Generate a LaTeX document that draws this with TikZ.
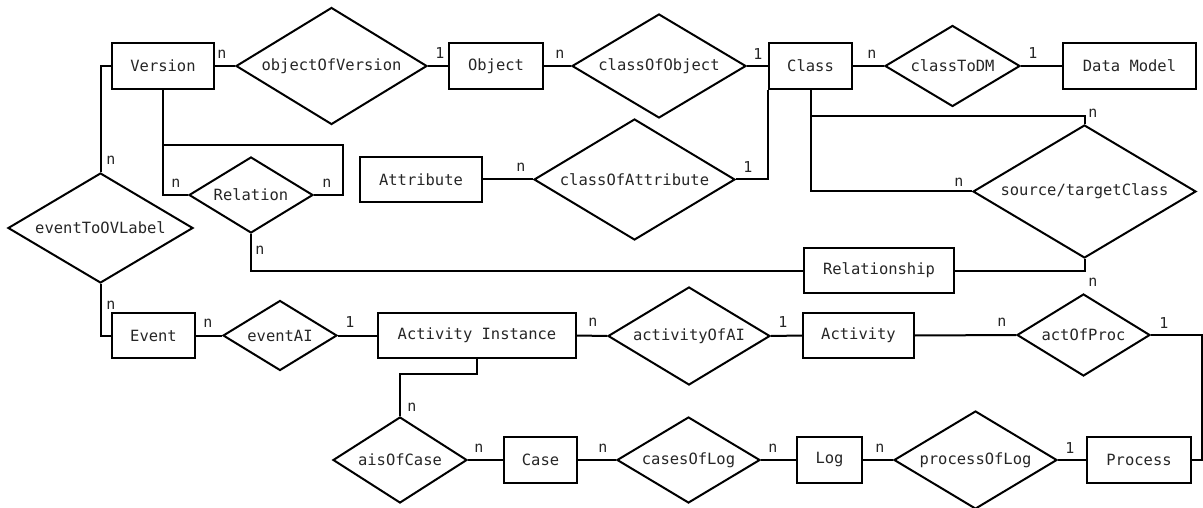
\documentclass[tikz,border=0pt]{standalone}
\usepackage{fontspec}
\setmainfont{DejaVu Sans Mono}
\usetikzlibrary{shapes.geometric}
% zero-width text so a diamond's size comes only from its minimum width/height
\newcommand\nowidth[1]{\makebox[0pt]{#1}}

\begin{document}
\begin{tikzpicture}[x=1pt,y=-1pt,
  every node/.style={font=\fontsize{15.5}{18}\selectfont, text=black!85},
  ent/.style={draw=black, line width=2pt, rectangle, inner sep=0pt},
  rel/.style={draw=black, line width=2pt, diamond, inner sep=0pt},
  card/.style={inner sep=0pt, font=\fontsize{15}{18}\selectfont},
  link/.style={draw=black, line width=2pt}]
\useasboundingbox (0,0) rectangle (1203,508);

% entities and relationships
\node[ent, minimum width=102, minimum height=46] (ver) at (163,66) {Version};
\node[rel, minimum width=191, minimum height=117] (ov) at (331.5,66) {\nowidth{objectOfVersion}};
\node[ent, minimum width=94, minimum height=46] (obj) at (496,66) {Object};
\node[rel, minimum width=174, minimum height=104] (co) at (659,66) {\nowidth{classOfObject}};
\node[ent, minimum width=83, minimum height=46] (cls) at (810.5,66) {Class};
\node[rel, minimum width=135, minimum height=81] (ctd) at (952.5,66) {\nowidth{classToDM}};
\node[ent, minimum width=133, minimum height=46] (dm) at (1129.5,66) {Data Model};
\node[ent, minimum width=122, minimum height=45] (attr) at (421,179.5) {Attribute};
\node[rel, minimum width=201, minimum height=121] (coa) at (634.5,179.5) {\nowidth{classOfAttribute}};
\node[rel, minimum width=223, minimum height=133] (stc) at (1084.5,191.5) {\nowidth{source/targetClass}};
\node[rel, minimum width=124, minimum height=76] (rel) at (251,195) {\nowidth{Relation}};
\node[ent, minimum width=150, minimum height=45] (rsh) at (879,270.5) {Relationship};
\node[rel, minimum width=185, minimum height=110] (eto) at (100.5,228) {\nowidth{eventToOVLabel}};
\node[ent, minimum width=83, minimum height=45] (evt) at (153.5,335.5) {Event};
\node[rel, minimum width=114, minimum height=70] (eai) at (280,335.5) {\nowidth{eventAI}};
\node[ent, minimum width=198, minimum height=45] (ai) at (477,335.5) {Activity Instance};
\node[rel, minimum width=162, minimum height=98] (aoa) at (689,336) {\nowidth{activityOfAI}};
\node[ent, minimum width=111, minimum height=45] (act) at (858.5,335.5) {Activity};
\node[rel, minimum width=133, minimum height=82] (aop) at (1083.5,335) {\nowidth{actOfProc}};
\node[ent, minimum width=104, minimum height=46] (proc) at (1139,460) {Process};
\node[rel, minimum width=163, minimum height=98] (pol) at (975.5,460) {\nowidth{processOfLog}};
\node[ent, minimum width=65, minimum height=46] (log) at (829.5,460) {Log};
\node[rel, minimum width=143, minimum height=86] (col) at (688.5,460) {\nowidth{casesOfLog}};
\node[ent, minimum width=73, minimum height=46] (case) at (540.5,460) {Case};
\node[rel, minimum width=134, minimum height=86] (aoc) at (400,460) {\nowidth{aisOfCase}};

% junction points on the connectors
\path (ver.south) ++(0,55) coordinate (verj);
\path (cls.south) ++(0,26) coordinate (clsj);
\path (ai.south) ++(0,15) coordinate (aij);

% connectors
\draw[link] (ver.east) -- (ov.west);
\draw[link] (ov.east) -- (obj.west);
\draw[link] (obj.east) -- (co.west);
\draw[link] (co.east) -- (cls.west);
\draw[link] (cls.east) -- (ctd.west);
\draw[link] (ctd.east) -- (dm.west);
\draw[link] (attr.east) -- (coa.west);
\draw[link] (coa.east) -| (cls.south west);
\draw[link] (cls.south) |- (stc.west);
\draw[link] (clsj) -| (stc.north);
\draw[link] (stc.south) |- (rsh.east);
\draw[link] (rel.south) |- (rsh.west);
\draw[link] (ver.south) |- (rel.west);
\draw[link] (verj) -- ++(180,0) |- (rel.east);
\draw[link] (ver.west) -| (eto.north);
\draw[link] (eto.south) |- (evt.west);
\draw[link] (evt.east) -- (eai.west);
\draw[link] (eai.east) -- (ai.west);
\draw[link] (ai.east) -- (aoa.west);
\draw[link] (aoa.east) -- (act.west);
\draw[link] (act.east) -- (aop.west);
\draw[link] (aop.east) -- ++(51,0) |- (proc.east);
\draw[link] (ai.south) -- (aij) -| (aoc.north);
\draw[link] (aoc.east) -- (case.west);
\draw[link] (case.east) -- (col.west);
\draw[link] (col.east) -- (log.west);
\draw[link] (log.east) -- (pol.west);
\draw[link] (pol.east) -- (proc.west);

% cardinalities
\node[card] at (222,54) {n};
\node[card] at (440,53) {1};
\node[card] at (560,54) {n};
\node[card] at (758,54) {1};
\node[card] at (872,54) {n};
\node[card] at (1033,53) {1};
\node[card] at (521,167) {n};
\node[card] at (748,167) {1};
\node[card] at (1093,113) {n};
\node[card] at (959,182) {n};
\node[card] at (1093,282) {n};
\node[card] at (176,183) {n};
\node[card] at (327,183) {n};
\node[card] at (260,250) {n};
\node[card] at (111,160) {n};
\node[card] at (111,305) {n};
\node[card] at (208,323) {n};
\node[card] at (350,322) {1};
\node[card] at (593,322) {n};
\node[card] at (783,322) {1};
\node[card] at (1002,322) {n};
\node[card] at (1164,323) {1};
\node[card] at (412,407) {n};
\node[card] at (479,448) {n};
\node[card] at (603,448) {n};
\node[card] at (773,448) {n};
\node[card] at (880,448) {n};
\node[card] at (1070,448) {1};
\end{tikzpicture}
\end{document}
